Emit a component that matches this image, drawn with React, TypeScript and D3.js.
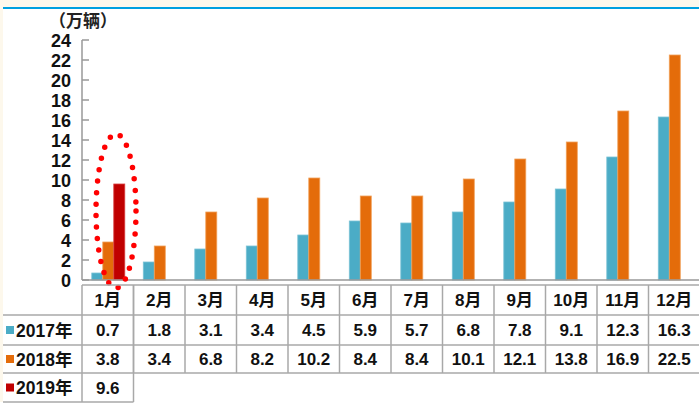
import React from "react";
import * as d3 from "d3";

// Monthly sales, in units of 10,000 vehicles
const months = ["1月", "2月", "3月", "4月", "5月", "6月", "7月", "8月", "9月", "10月", "11月", "12月"];
const seriesNames = ["2017年", "2018年", "2019年"];
const sales2017 = [0.7, 1.8, 3.1, 3.4, 4.5, 5.9, 5.7, 6.8, 7.8, 9.1, 12.3, 16.3];
const sales2018 = [3.8, 3.4, 6.8, 8.2, 10.2, 8.4, 8.4, 10.1, 12.1, 13.8, 16.9, 22.5];
const sales2019 = [9.6];
const yTicks = [0, 2, 4, 6, 8, 10, 12, 14, 16, 18, 20, 22, 24];
const unitLabel = "（万辆）";

const seriesColors = ["#4BACC6", "#E46C0A", "#C00000"];
const seriesStroke = ["#7cc3d6", "#f0a05a", "#d84040"];

const W = 699;
const H = 408;
const FONT = "'Liberation Sans', Arial, 'Noto Sans CJK SC', sans-serif";

export default function App() {
  const series = [sales2017, sales2018, sales2019];

  const y = d3.scaleLinear().domain([0, 24]).range([280, 40]);
  const x = d3.scaleBand<string>().domain(months).range([82, 700]).paddingInner(0).paddingOuter(0);
  const bw = x.bandwidth();
  const inner = d3
    .scaleBand<string>()
    .domain(seriesNames)
    .range([bw * 0.19, bw * 0.19 + 33])
    .padding(0);

  const gridColor = "#a8a8a8";
  const rowTops = [285, 315, 345, 373, 402];
  const axisX = 82;

  return (
    <div style={{ position: "absolute", left: 0, top: 0 }}>
      <svg width={W} height={H} style={{ display: "block" }} fontFamily={FONT}>
        {/* page background and header rule */}
        <rect x={0} y={0} width={W} height={H} fill="#FDF8EC" />
        <rect x={3} y={8} width={W - 3} height={394} fill="#ffffff" />
        <rect x={0} y={402} width={W} height={H - 402} fill="#ffffff" />
        <line x1={3} x2={W} y1={8} y2={8} stroke="#00A0E0" strokeWidth={2} />

        {/* unit label */}
        <text x={49} y={27} fontSize={17} fontWeight={700} fill="#222">
          {unitLabel}
        </text>

        {/* y axis */}
        <line x1={axisX} x2={axisX} y1={y(24)} y2={y(0)} stroke="#999" strokeWidth={1.5} />
        {yTicks.map((t) => (
          <g key={t}>
            <line x1={axisX} x2={axisX + 7} y1={y(t)} y2={y(t)} stroke="#999" strokeWidth={1.5} />
            <text
              x={71}
              y={y(t)}
              dy="0.38em"
              textAnchor="end"
              fontSize={18}
              fontWeight={700}
              fill="#111"
            >
              {t}
            </text>
          </g>
        ))}

        {/* bars */}
        {series.map((vals, si) =>
          vals.map((v, mi) => (
            <rect
              key={`${si}-${mi}`}
              x={(x(months[mi]) ?? 0) + (inner(seriesNames[si]) ?? 0)}
              y={y(v)}
              width={inner.bandwidth()}
              height={y(0) - y(v)}
              fill={seriesColors[si]}
              stroke={seriesStroke[si]}
              strokeWidth={0.8}
            />
          ))
        )}

        {/* x axis */}
        <line x1={axisX} x2={W} y1={y(0)} y2={y(0)} stroke="#999" strokeWidth={1.5} />

        {/* highlight around January */}
        <ellipse
          cx={116}
          cy={211}
          rx={20}
          ry={77}
          fill="none"
          stroke="#FF0000"
          strokeWidth={5.5}
          strokeDasharray="0 11.5"
          strokeLinecap="round"
        />

        {/* data table: horizontal rules */}
        <line x1={axisX} x2={W} y1={rowTops[0]} y2={rowTops[0]} stroke={gridColor} strokeWidth={1.5} />
        <line x1={3} x2={W} y1={rowTops[1]} y2={rowTops[1]} stroke={gridColor} strokeWidth={1.5} />
        <line x1={3} x2={W} y1={rowTops[2]} y2={rowTops[2]} stroke={gridColor} strokeWidth={1.5} />
        <line x1={3} x2={W} y1={rowTops[3]} y2={rowTops[3]} stroke={gridColor} strokeWidth={1.5} />
        <line
          x1={3}
          x2={(x(months[0]) ?? 0) + bw}
          y1={rowTops[4]}
          y2={rowTops[4]}
          stroke={gridColor}
          strokeWidth={1.5}
        />

        {/* vertical rules */}
        {months.map((m, i) => {
          const left = x(m) ?? 0;
          const bottom = i === 0 ? rowTops[4] : rowTops[3];
          return (
            <g key={m}>
              <line x1={left} x2={left} y1={rowTops[0]} y2={bottom} stroke={gridColor} strokeWidth={1.5} />
              {i === 0 && (
                <line
                  x1={left + bw}
                  x2={left + bw}
                  y1={rowTops[0]}
                  y2={rowTops[4]}
                  stroke={gridColor}
                  strokeWidth={1.5}
                />
              )}
            </g>
          );
        })}

        {/* month header */}
        {months.map((m) => (
          <text
            key={m}
            x={(x(m) ?? 0) + bw / 2}
            y={(rowTops[0] + rowTops[1]) / 2}
            dy="0.38em"
            textAnchor="middle"
            fontSize={17}
            fontWeight={700}
            fill="#111"
          >
            {m}
          </text>
        ))}

        {/* row labels and values */}
        {series.map((vals, si) => {
          const cy = (rowTops[si + 1] + rowTops[si + 2]) / 2;
          return (
            <g key={seriesNames[si]}>
              <rect x={6} y={cy - 4} width={8} height={8} fill={seriesColors[si]} />
              <text x={16} y={cy} dy="0.38em" fontSize={17.5} fontWeight={700} fill="#111">
                {seriesNames[si]}
              </text>
              {vals.map((v, mi) => (
                <text
                  key={mi}
                  x={(x(months[mi]) ?? 0) + bw / 2}
                  y={cy}
                  dy="0.38em"
                  textAnchor="middle"
                  fontSize={17}
                  fontWeight={700}
                  fill="#111"
                >
                  {v.toFixed(1)}
                </text>
              ))}
            </g>
          );
        })}
      </svg>
    </div>
  );
}
